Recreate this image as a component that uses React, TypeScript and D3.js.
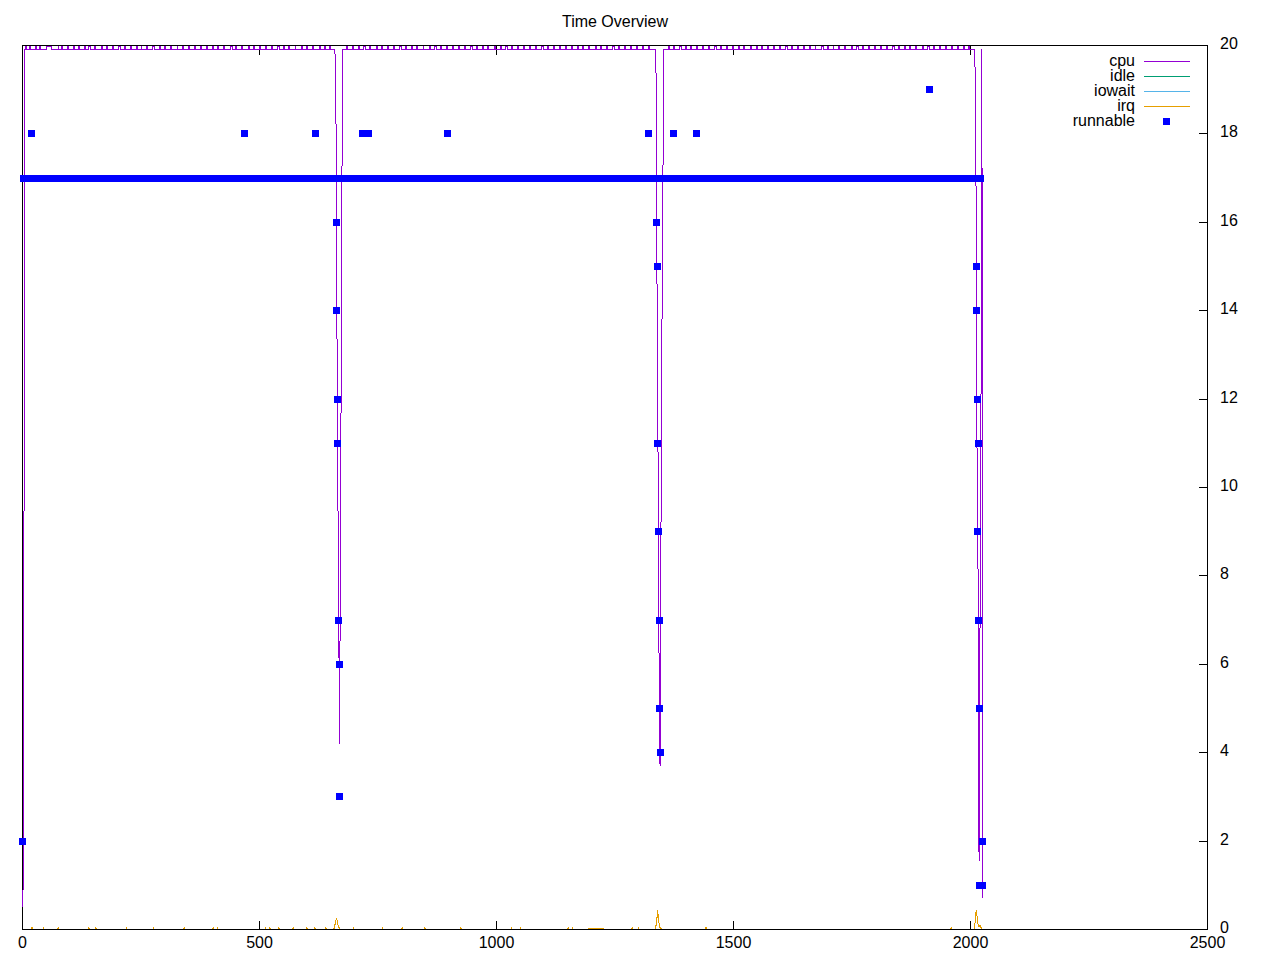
import React from "react";
import * as d3 from "d3";

const W = 1280;
const H = 960;
const xDomain: [number, number] = [0, 2500];
const yDomain: [number, number] = [0, 20];
const xTickValues = [0, 500, 1000, 1500, 2000, 2500];
const yTickValues = [0, 2, 4, 6, 8, 10, 12, 14, 16, 18, 20];
const chartTitle = "Time Overview";
const lineNames = ["cpu", "idle", "iowait", "irq"];
const lineColors = ["#9400d3", "#009e73", "#56b4e9", "#e69f00"];
const pointName = "runnable";
const pointColor = "#0000ff";

// cpu: sits near 19.9 with short rises to ~20, and three deep dips
const cpuBase = 19.91;
const cpuHigh = 19.98;
const cpuHighSpans: [number, number][] = [
  [6, 8], [14, 16], [27, 29], [36, 38], [50, 62], [75, 77], [82, 84], [95, 97], [108, 110], [118, 120],
  [130, 132], [140, 144], [152, 154], [166, 168], [178, 180], [190, 192], [202, 206], [215, 217], [228, 230],
  [240, 242], [250, 252], [262, 264], [275, 279], [290, 292], [300, 302], [312, 314], [326, 328], [338, 340],
  [350, 352], [362, 366], [375, 377], [388, 390], [400, 402], [412, 414], [425, 427], [438, 442], [450, 452],
  [462, 464], [476, 478], [488, 490], [500, 502], [512, 514], [526, 528], [538, 542], [550, 552], [562, 564],
  [575, 577], [588, 590], [600, 602], [612, 614], [626, 628], [638, 640], [648, 650],
  [684, 686], [696, 698], [708, 710], [720, 724], [733, 735], [746, 748], [758, 760], [770, 772], [782, 784],
  [795, 799], [808, 810], [820, 822], [832, 834], [845, 847], [858, 860], [870, 874], [882, 884], [895, 897],
  [908, 910], [920, 922], [932, 934], [945, 949], [958, 960], [970, 972], [982, 984], [995, 997], [1008, 1010],
  [1020, 1024], [1032, 1034], [1045, 1047], [1058, 1060], [1070, 1072], [1082, 1084], [1095, 1099], [1108, 1110],
  [1120, 1122], [1132, 1134], [1145, 1147], [1158, 1160], [1170, 1174], [1182, 1184], [1195, 1197], [1208, 1210],
  [1220, 1222], [1232, 1234], [1245, 1249], [1258, 1260], [1270, 1272], [1282, 1284], [1295, 1297], [1308, 1310],
  [1320, 1322],
  [1362, 1364], [1374, 1376], [1386, 1390], [1398, 1400], [1410, 1412], [1422, 1424], [1435, 1437], [1448, 1450],
  [1460, 1464], [1472, 1474], [1485, 1487], [1498, 1500], [1510, 1512], [1522, 1524], [1535, 1539], [1548, 1550],
  [1560, 1562], [1572, 1574], [1585, 1587], [1598, 1600], [1610, 1614], [1622, 1624], [1635, 1637], [1648, 1650],
  [1660, 1662], [1672, 1674], [1685, 1689], [1698, 1700], [1710, 1712], [1722, 1724], [1735, 1737], [1748, 1750],
  [1760, 1764], [1772, 1774], [1785, 1787], [1798, 1800], [1810, 1812], [1822, 1824], [1835, 1839], [1848, 1850],
  [1860, 1862], [1872, 1874], [1885, 1887], [1898, 1900], [1910, 1914], [1922, 1924], [1935, 1937], [1948, 1950],
  [1960, 1962], [1972, 1974], [1985, 1987], [1996, 1998],
];
const cpuStart: [number, number][] = [[1, 0.5], [3.2, 9.5], [3.6, 19.91]];
const cpuDip1: [number, number][] = [
  [659, 19.91], [661, 19.2], [663, 14.4], [665, 10.5], [667, 7.3], [669, 4.2], [671, 9.5], [673, 14.0], [675, 19.91],
];
const cpuDip2: [number, number][] = [
  [1335, 19.91], [1337, 19.2], [1339, 13.6], [1341, 10.4], [1343, 5.9], [1345, 3.7], [1347, 9.0], [1349, 13.5],
  [1351, 16.8], [1353, 19.91],
];
const cpuDip3: [number, number][] = [
  [2008, 19.91], [2010, 19.4], [2012, 16.2], [2014, 10.1], [2016, 8.0], [2018, 1.56], [2020, 6.6], [2022, 11.3],
  [2024, 19.91], [2026, 0.72],
];

// idle and iowait stay at zero
const idleValues: [number, number][] = [[0, 0], [2026, 0]];
const iowaitValues: [number, number][] = [[0, 0], [2026, 0]];

// irq: tiny blips plus bumps at the dips
const irqBlips: [number, number][] = [
  [20, 0.05], [45, 0.05], [75, 0.05], [140, 0.05], [155, 0.05], [220, 0.05], [277, 0.05], [341, 0.05],
  [402, 0.05], [412, 0.05], [512, 0.05], [522, 0.05], [541, 0.05], [571, 0.05], [600, 0.05], [617, 0.05],
  [640, 0.05], [699, 0.05], [760, 0.05], [801, 0.05], [849, 0.05], [925, 0.05], [1031, 0.05], [1050, 0.05],
  [1151, 0.05], [1161, 0.05], [1286, 0.05], [1299, 0.05], [1442, 0.05], [1959, 0.05],
];
const irqPlateau: [number, number][] = [[1194, 0], [1195, 0.03], [1225, 0.03], [1226, 0]];
const irqBump1: [number, number][] = [
  [656, 0], [658, 0.04], [660, 0.15], [662, 0.25], [664, 0.2], [666, 0.08], [668, 0.04], [671, 0],
];
const irqBump2: [number, number][] = [
  [1334, 0], [1336, 0.05], [1338, 0.2], [1340, 0.43], [1342, 0.2], [1344, 0.05], [1346, 0.03], [1349, 0],
];
const irqBump3: [number, number][] = [
  [2008, 0], [2010, 0.2], [2012, 0.43], [2014, 0.3], [2016, 0.1], [2018, 0.05], [2020, 0.09], [2022, 0.05], [2024, 0],
];

// runnable: dense run of 17s plus individual values
const runnableRun: [number, number, number] = [3, 2023, 17];
const runnableX = [
  0, 20, 469, 619, 718, 731, 896, 1320, 1373, 1422, 1914,
  662.4, 662.4, 664.6, 664.6, 666.7, 668.8, 668.5,
  1338.5, 1340.6, 1340.6, 1342.7, 1344.8, 1344.8, 1346.9,
  2012.7, 2012.7, 2014.8, 2016.9, 2014.8, 2016.9, 2019.0, 2024.3, 2019.0, 2025.2,
];
const runnableY = [
  2, 18, 18, 18, 18, 18, 18, 18, 18, 18, 19,
  16, 14, 12, 11, 7, 6, 3,
  16, 15, 11, 9, 7, 5, 4,
  15, 14, 12, 11, 9, 7, 5, 2, 1, 1,
];

const FONT = "'Liberation Sans', Arial, Helvetica, sans-serif";

export default function App() {
  const left = 22.5, right = 1207.5, top = 45.5, bottom = 929.5;
  const xs = d3.scaleLinear().domain(xDomain).range([left, right]);
  const ys = d3.scaleLinear().domain(yDomain).range([bottom, top]);
  const line = d3
    .line<[number, number]>()
    .x((d) => xs(d[0]))
    .y((d) => ys(d[1]));

  const cpuPts: [number, number][] = [...cpuStart, ...cpuDip1, ...cpuDip2, ...cpuDip3];
  cpuHighSpans.forEach(([s, e]) => {
    cpuPts.push([s, cpuBase], [s, cpuHigh], [e, cpuHigh], [e, cpuBase]);
  });
  const cpuSorted = cpuPts.map((p, i) => ({ p, i })).sort((a, b) => a.p[0] - b.p[0] || a.i - b.i).map((o) => o.p);

  const irqPts: [number, number][] = [[0, 0], ...irqPlateau, ...irqBump1, ...irqBump2, ...irqBump3, [2026, 0]];
  irqBlips.forEach(([x, v]) => {
    irqPts.push([x - 0.6, 0], [x, v], [x + 0.6, 0]);
  });
  const irqSorted = irqPts.map((p, i) => ({ p, i })).sort((a, b) => a.p[0] - b.p[0] || a.i - b.i).map((o) => o.p);

  const sq = 7;
  const legendLineY = [61, 76, 91, 106];

  return (
    <svg
      width={W}
      height={H}
      viewBox={`0 0 ${W} ${H}`}
      style={{ position: "absolute", left: 0, top: 0, background: "#fff" }}
      fontFamily={FONT}
    >
      <rect x={0} y={0} width={W} height={H} fill="#fff" />
      <text x={(left + right) / 2} y={26.5} textAnchor="middle" fontSize={16} fill="#000">
        {chartTitle}
      </text>

      <path d={line(idleValues) || ""} fill="none" stroke={lineColors[1]} strokeWidth={1} shapeRendering="crispEdges" />
      <path d={line(iowaitValues) || ""} fill="none" stroke={lineColors[2]} strokeWidth={1} shapeRendering="crispEdges" />
      <path d={line(irqSorted) || ""} fill="none" stroke={lineColors[3]} strokeWidth={1} shapeRendering="crispEdges" />

      {/* border */}
      <rect x={left} y={top} width={right - left} height={bottom - top} fill="none" stroke="#000" strokeWidth={1} shapeRendering="crispEdges" />
      {xTickValues.map((t) => (
        <g key={"xt" + t}>
          <line x1={xs(t)} x2={xs(t)} y1={bottom} y2={bottom - 9} stroke="#000" shapeRendering="crispEdges" />
          <line x1={xs(t)} x2={xs(t)} y1={top} y2={top + 9} stroke="#000" shapeRendering="crispEdges" />
          <text x={xs(t)} y={948} textAnchor="middle" fontSize={16} fill="#000">
            {t}
          </text>
        </g>
      ))}
      {yTickValues.map((t) => (
        <g key={"yt" + t}>
          <line x1={right} x2={right - 9} y1={ys(t)} y2={ys(t)} stroke="#000" shapeRendering="crispEdges" />
          <text x={1220} y={ys(t) + 3.5} textAnchor="start" fontSize={16} fill="#000">
            {t}
          </text>
        </g>
      ))}

      <path d={line(cpuSorted) || ""} fill="none" stroke={lineColors[0]} strokeWidth={1} shapeRendering="crispEdges" />

      {/* runnable */}
      <rect
        x={Math.round(xs(runnableRun[0]) - sq / 2)}
        y={Math.round(ys(runnableRun[2]) - sq / 2)}
        width={Math.round(xs(runnableRun[1]) - xs(runnableRun[0])) + sq}
        height={sq}
        fill={pointColor}
        shapeRendering="crispEdges"
      />
      {runnableX.map((x, i) => (
        <rect
          key={"r" + i}
          x={Math.round(xs(x) - sq / 2)}
          y={Math.round(ys(runnableY[i]) - sq / 2)}
          width={sq}
          height={sq}
          fill={pointColor}
          shapeRendering="crispEdges"
        />
      ))}

      {/* legend */}
      {lineNames.map((n, i) => (
        <g key={"lg" + n}>
          <text x={1135} y={legendLineY[i] + 4.5} textAnchor="end" fontSize={16} fill="#000">
            {n}
          </text>
          <line x1={1144} x2={1190} y1={legendLineY[i] + 0.5} y2={legendLineY[i] + 0.5} stroke={lineColors[i]} strokeWidth={1} shapeRendering="crispEdges" />
        </g>
      ))}
      <text x={1135} y={125.5} textAnchor="end" fontSize={16} fill="#000">
        {pointName}
      </text>
      <rect x={1163} y={118} width={sq} height={sq} fill={pointColor} shapeRendering="crispEdges" />
    </svg>
  );
}
